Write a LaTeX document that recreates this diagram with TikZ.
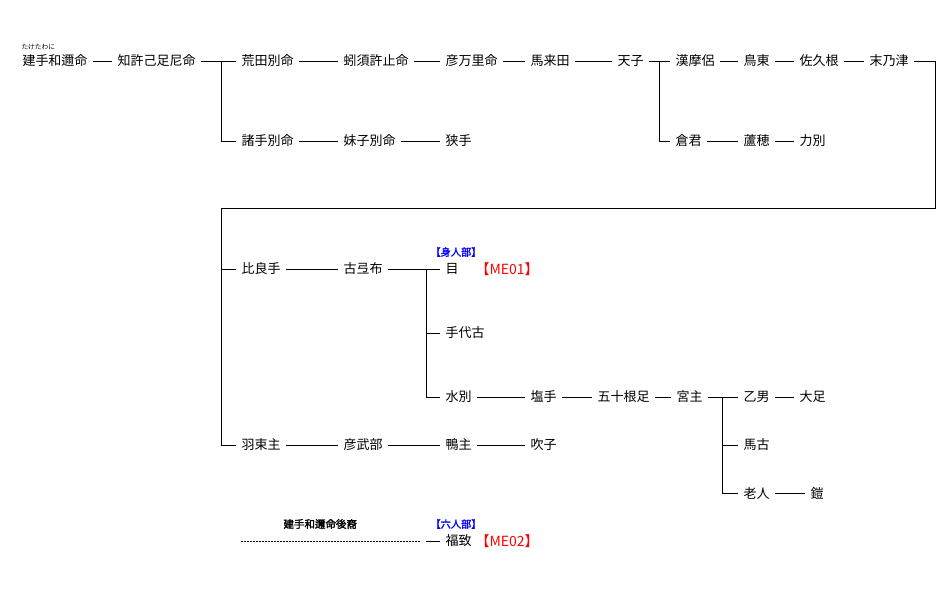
\documentclass[tikz,border=0pt]{standalone}
\usepackage{fontspec}
\newfontfamily\jp[AutoFakeBold=2]{Noto Sans CJK JP}
\usetikzlibrary{positioning}

\begin{document}
\begin{tikzpicture}[x=1pt,y=-1pt,line width=1pt,
  hito/.style={anchor=west,inner xsep=5pt,inner ysep=0pt,font=\jp\fontsize{13}{15}\selectfont},
  tag/.style={anchor=west,inner sep=0pt,font=\jp\fontsize{14}{16}\selectfont,text=red},
  bu/.style={anchor=west,inner sep=0pt,font=\jp\bfseries\fontsize{10.2}{12}\selectfont,text=blue},
  note/.style={anchor=west,inner sep=0pt,font=\jp\bfseries\fontsize{10.5}{12}\selectfont}]
\useasboundingbox (0,0) rectangle (945,589);
% first generations
\foreach \n/\x/\t in {take/22/建手和邇命,chikyo/117/知許己足尼命,arata/241/荒田別命,
  mimizu/343/蚓須許止命,hikoma/445/彦万里命,umaku/530/馬来田,amako/617/天子,
  ayamaro/675/漢摩侶,torisuka/743/鳥東,sakune/799/佐久根,suenotsu/869/末乃津} {
  \node[hito] (\n) at (\x-5,61) {\t};
}
\foreach \n/\x/\t in {morote/241/諸手別命,imoko/343/妹子別命,sate/445/狭手,
  kuragimi/675/倉君,ashiho/743/蘆穂,chikara/799/力別} {
  \node[hito] (\n) at (\x-5,141) {\t};
}
\node[anchor=west,inner sep=0pt,font=\jp\fontsize{6.7}{7}\selectfont] (ruby) at (21,47) {たけたわに};
% later generations
\foreach \n/\x/\y/\t in {hira/241/269/比良手,kote/343/269/古弖布,me/445/269/目,
  teshiro/445/333/手代古,mizuwake/445/397/水別,shiote/530/397/塩手,
  isone/597/397/五十根足,miyanushi/676/397/宮主,oto/743/397/乙男,otari/799/397/大足,
  hatsuka/241/445/羽束主,hikotake/343/445/彦武部,kamo/445/445/鴨主,fuki/530/445/吹子,
  umako/743/445/馬古,oibito/743/493/老人,yoroi/810/493/鎧,fukuchi/445/541/福致} {
  \node[hito] (\n) at (\x-5,\y) {\t};
}
\node[tag] (me01) at (475,269) {【ME01】};
\node[tag] (me02) at (475,541) {【ME02】};
\node[bu] (mibe) at (430,252) {【身人部】};
\node[bu] (mutobe) at (430,524) {【六人部】};
\node[note] (koei) at (283,524) {建手和邇命後裔};
% lines
\foreach \a/\b in {take/chikyo,chikyo/arata,arata/mimizu,mimizu/hikoma,hikoma/umaku,
  umaku/amako,amako/ayamaro,ayamaro/torisuka,torisuka/sakune,sakune/suenotsu,
  morote/imoko,imoko/sate,kuragimi/ashiho,ashiho/chikara,
  hira/kote,kote/me,mizuwake/shiote,shiote/isone,isone/miyanushi,miyanushi/oto,
  oto/otari,hatsuka/hikotake,hikotake/kamo,kamo/fuki,oibito/yoroi} {
  \draw (\a.east) -- (\b.west);
}
\coordinate (j1) at (221,61);
\coordinate (j2) at (659,61);
\coordinate (j3) at (426,269);
\coordinate (j4) at (722,397);
\coordinate (cR) at (935,208);
\coordinate (cL) at (221,208);
\draw (j1) |- (morote.west);
\draw (j2) |- (kuragimi.west);
\draw (j3) |- (teshiro.west);
\draw (j3) |- (mizuwake.west);
\draw (j4) |- (umako.west);
\draw (j4) |- (oibito.west);
\draw (suenotsu.east) -| (cR) -- (cL) |- (hatsuka.west);
\draw (cL) |- (hira.west);
\coordinate (d0) at (241,541);
\coordinate (d1) at (421,541);
\coordinate (d2) at (426,541);
\draw[dash pattern=on 2pt off 1pt] (d0) -- (d1);
\draw (d2) -- (fukuchi.west);
\end{tikzpicture}
\end{document}
